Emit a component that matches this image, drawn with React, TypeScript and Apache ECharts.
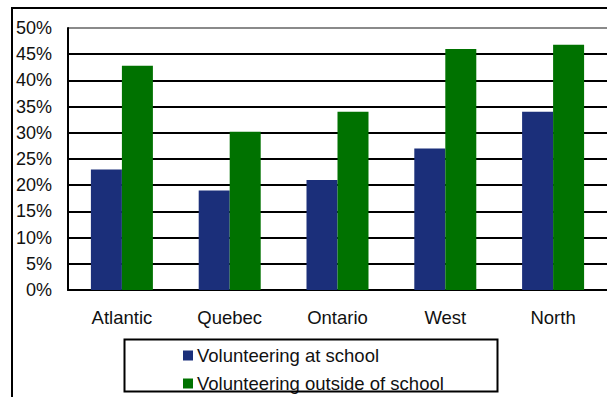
import React, { useEffect, useRef } from "react";
import * as echarts from "echarts";

const categories = ["Atlantic", "Quebec", "Ontario", "West", "North"];
const atSchool = [23, 19, 21, 27, 34];
const outsideSchool = [42.8, 30.2, 34, 46, 46.8];
const seriesNames = ["Volunteering at school", "Volunteering outside of school"];
const yTicks = { min: 0, max: 50, interval: 5 };

export default function App() {
  const ref = useRef<HTMLDivElement>(null);
  useEffect(() => {
    if (!ref.current) return;
    const chart = echarts.init(ref.current, null, { renderer: "svg" });
    const font = "Arial, 'Liberation Sans', sans-serif";
    chart.setOption({
      animation: false,
      backgroundColor: "#fff",
      grid: { left: 68, top: 28, width: 542, height: 262, containLabel: false },
      xAxis: {
        type: "category",
        data: categories,
        axisLine: { show: true, lineStyle: { color: "#000", width: 2 } },
        axisTick: { show: false },
        axisLabel: { color: "#111", fontSize: 18.5, fontFamily: font, margin: 18 },
      },
      yAxis: {
        type: "value",
        min: yTicks.min,
        max: yTicks.max,
        interval: yTicks.interval,
        axisLine: { show: true, lineStyle: { color: "#000", width: 2 } },
        axisTick: { show: false },
        axisLabel: {
          color: "#111",
          fontSize: 18,
          fontFamily: font,
          margin: 16,
          formatter: (v: number) => `${Math.round(v)}%`,
        },
        splitLine: {
          show: true,
          lineStyle: {
            color: ["#000", "#000", "#000", "#000", "#000", "#000", "#000", "#000", "#000", "#000", "#8a8a8a"],
            width: 2,
          },
        },
      },
      legend: {
        orient: "vertical",
        left: 183,
        top: 346,
        itemWidth: 10,
        itemHeight: 10,
        itemGap: 9,
        icon: "rect",
        padding: 0,
        textStyle: { fontSize: 18.5, fontFamily: font, color: "#111", padding: [0, 0, 0, -1] },
        data: seriesNames,
      },
      graphic: [
        {
          type: "rect",
          shape: { x: 12, y: 8, width: 640, height: 440 },
          style: { fill: "none", stroke: "#000", lineWidth: 2 },
          silent: true,
        },
        {
          type: "rect",
          shape: { x: 124.5, y: 339.5, width: 373, height: 52 },
          style: { fill: "none", stroke: "#000", lineWidth: 2 },
          silent: true,
          z: 100,
        },
      ],
      series: [
        {
          name: seriesNames[0],
          type: "bar",
          data: atSchool,
          barWidth: 31,
          barGap: "0%",
          itemStyle: { color: "#1B2F7A" },
        },
        {
          name: seriesNames[1],
          type: "bar",
          data: outsideSchool,
          barWidth: 31,
          barGap: "0%",
          itemStyle: { color: "#007200" },
        },
      ],
    });
    return () => chart.dispose();
  }, []);
  return (
    <div
      ref={ref}
      style={{ position: "absolute", left: 0, top: 0, width: 607, height: 397 }}
    />
  );
}
